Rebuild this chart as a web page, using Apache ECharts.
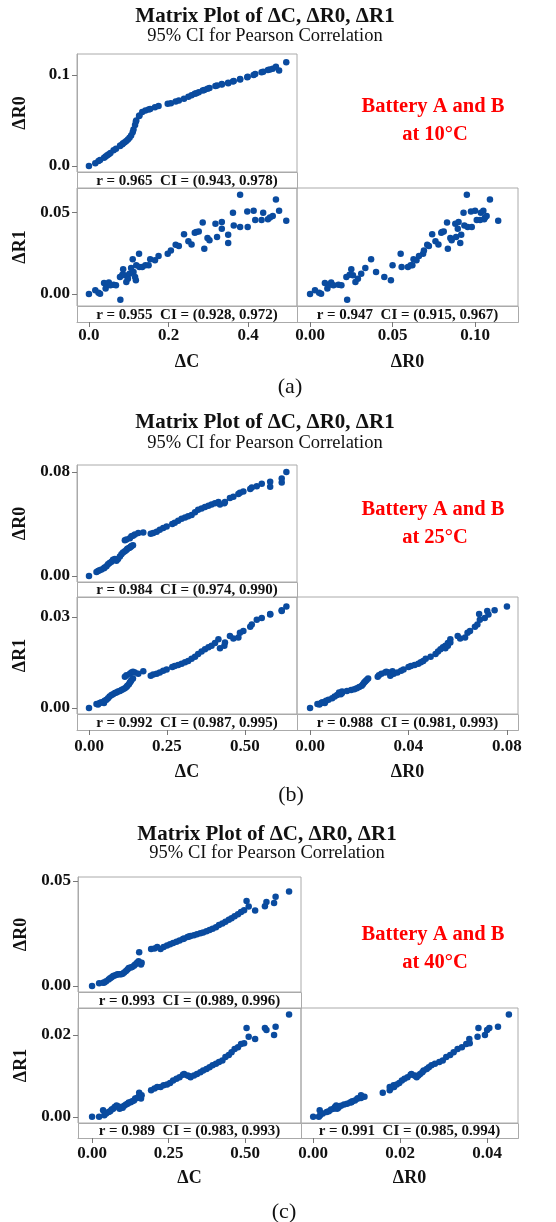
<!DOCTYPE html>
<html>
<head>
<meta charset="utf-8">
<script src="https://cdn.jsdelivr.net/npm/echarts@6/dist/echarts.min.js"></script>
<style>
  html, body { margin: 0; padding: 0; background: #fff; }
  #chart { width: 556px; height: 1222px; }
</style>
</head>
<body>
<div id="chart"></div>
<script>
// ---- data read from the figure: one value per observation ----
// 10 °C
const dC_10 = [0, .016, .024, .028, .038, .042, .046, .050, .054, .062, .068, .079, .078, .084, .086, .090, .094, .098, .102, .106, .110, .112, .116, .118, .119, .126, .127, .134, .142, .150, .154, .166, .175, .198, .206, .218, .226, .239, .250, .258, .266, .270, .276, .286, .290, .298, .303, .318, .322, .334, .334, .350, .350, .362, .364, .380, .380, .398, .399, .414, .418, .434, .438, .450, .455, .462, .470, .478, .496];
const dR0_10 = [0, .003, .0055, .0067, .009, .0105, .0117, .0128, .0142, .0172, .019, .0225, .022, .024, .025, .026, .0275, .029, .031, .0335, .037, .040, .045, .049, .050, .0549, .0555, .0593, .061, .062, .0627, .0645, .066, .0685, .069, .071, .072, .074, .076, .0778, .0795, .080, .081, .083, .0835, .085, .0858, .088, .0885, .090, .0895, .0916, .091, .093, .0935, .095, .0955, .0975, .098, .100, .101, .103, .1035, .1055, .106, .107, .109, .105, .114];
const dR1_10 = [0, .0023, .0008, .0002, .0068, .0033, .0057, .007, .0053, .0057, .0053, -.0035, .0105, .0119, .0152, .0115, .0074, .0094, .0125, .016, .0213, .0135, .0105, .0084, .0176, .0248, .0166, .0166, .0176, .0176, .0213, .0207, .0234, .0248, .0268, .0303, .0295, .0367, .0324, .0305, .0377, .0381, .0385, .0439, .0279, .0344, .033, .0432, .035, .0443, .0402, .0365, .0314, .05, .0422, .0611, .0412, .0508, .0412, .0512, .0455, .0455, .05, .0459, .0471, .048, .0582, .0512, .045];

// 25 °C
const dC_25 = [0, .024, .029, .034, .040, .048, .050, .056, .061, .066, .072, .077, .083, .088, .093, .099, .104, .109, .115, .120, .123, .128, .131, .134, .136, .141, .115, .120, .131, .136, .141, .147, .158, .174, .198, .206, .217, .227, .238, .249, .267, .275, .286, .297, .308, .318, .329, .340, .350, .361, .372, .383, .393, .404, .415, .420, .434, .436, .452, .463, .479, .484, .495, .517, .522, .538, .554, .581, .581, .618, .618, .633];
const dR0_25 = [0, .003, .0038, .0045, .005, .006, .0065, .0075, .009, .010, .011, .0125, .013, .0118, .013, .015, .0167, .018, .019, .020, .021, .0215, .022, .0225, .023, .0236, .0275, .028, .029, .0305, .031, .032, .033, .0335, .0326, .033, .034, .0355, .037, .038, .040, .041, .0425, .044, .045, .046, .047, .049, .051, .052, .053, .054, .055, .056, .057, .055, .056, .057, .060, .061, .063, .064, .065, .067, .068, .069, .071, .0725, .0687, .072, .075, .080];
const dR1_25 = [0, .0013, .0011, .0016, .0019, .0016, .0024, .0027, .0032, .0038, .0043, .0045, .0049, .0051, .0054, .0056, .0059, .0062, .0065, .0069, .0073, .0078, .0084, .0088, .0092, .0097, .0103, .0108, .0113, .0117, .0119, .0117, .0113, .0121, .0106, .0110, .0113, .0117, .0123, .0127, .0135, .0138, .0142, .0146, .0151, .0155, .0162, .0169, .0178, .0186, .0194, .0200, .0205, .0214, .0227, .0197, .0205, .0216, .0237, .0229, .0232, .0248, .0254, .0268, .0275, .0291, .0297, .0308, .031, .032, .0322, .0335];

// 40 °C
const dC_40 = [0, .023, .036, .040, .046, .054, .059, .064, .069, .074, .080, .084, .090, .095, .100, .105, .111, .116, .120, .126, .131, .137, .141, .147, .152, .154, .160, .162, .193, .204, .213, .224, .234, .245, .255, .265, .276, .286, .297, .301, .312, .317, .322, .333, .343, .354, .363, .374, .384, .394, .405, .415, .426, .436, .447, .456, .466, .477, .487, .497, .505, .512, .533, .565, .570, .595, .600, .644];
const dR0_40 = [0, .0013, .0015, .0016, .0022, .0031, .0036, .0041, .0047, .005, .0053, .0055, .0055, .0056, .0058, .0064, .0071, .0078, .0085, .0088, .009, .0096, .0102, .011, .0118, .016, .0102, .011, .0176, .0178, .0186, .0176, .0185, .0192, .0198, .0204, .021, .0217, .0224, .0226, .0233, .0236, .0238, .0242, .0246, .0251, .0254, .0261, .0266, .0272, .028, .029, .0298, .0306, .0315, .0323, .0332, .0342, .0352, .036, .0405, .0378, .0359, .038, .040, .0395, .0425, .045];
const dR1_40 = [0, 0, .0016, .0004, .0008, .0012, .0014, .0018, .002, .0024, .0028, .0026, .002, .0024, .0022, .0027, .003, .0032, .0035, .0036, .0038, .004, .0045, .0046, .0049, .0059, .0045, .0053, .0065, .0069, .0073, .0073, .0077, .0079, .0083, .0089, .0093, .0097, .0103, .0105, .0101, .010, .0097, .0101, .0105, .0109, .0113, .0117, .0121, .0126, .013, .0134, .0138, .0146, .0151, .0158, .0166, .017, .0178, .018, .0217, .0196, .019, .0217, .0212, .020, .022, .025];

// tick labels
const ticksC_10 = ['0.0', '0.2', '0.4'];
const ticksR0x_10 = ['0.00', '0.05', '0.10'];
const ticksR0y_10 = ['0.0', '0.1'];
const ticksR1_10 = ['0.00', '0.05'];
const ticksC_25 = ['0.00', '0.25', '0.50'];
const ticksR0x_25 = ['0.00', '0.04', '0.08'];
const ticksR0y_25 = ['0.00', '0.08'];
const ticksR1_25 = ['0.00', '0.03'];
const ticksC_40 = ['0.00', '0.25', '0.50'];
const ticksR0x_40 = ['0.00', '0.02', '0.04'];
const ticksR0y_40 = ['0.00', '0.05'];
const ticksR1_40 = ['0.00', '0.02'];

// correlation text (ΔC-ΔR0, ΔC-ΔR1, ΔR0-ΔR1)
const stats_10 = ['r = 0.965  CI = (0.943, 0.978)', 'r = 0.955  CI = (0.928, 0.972)', 'r = 0.947  CI = (0.915, 0.967)'];
const stats_25 = ['r = 0.984  CI = (0.974, 0.990)', 'r = 0.992  CI = (0.987, 0.995)', 'r = 0.988  CI = (0.981, 0.993)'];
const stats_40 = ['r = 0.993  CI = (0.989, 0.996)', 'r = 0.989  CI = (0.983, 0.993)', 'r = 0.991  CI = (0.985, 0.994)'];

const FONT = "'Liberation Serif', 'Times New Roman', serif";
const GRAY = '#aaaaaa';
const DOT = '#0a4b9f';

const grids = [], xAxes = [], yAxes = [], series = [], graphics = [];

function zip(a, b) { return a.map((v, i) => [v, b[i]]); }

function text(x, y, str, font, color) {
  graphics.push({
    type: 'text', x: x, y: y, silent: true,
    style: { text: str, font: font, fill: color || '#111', align: 'center', verticalAlign: 'middle',
             textAlign: 'center', textVerticalAlign: 'middle' }
  });
}

function valueAxis(range, ticks, margin, opt) {
  const vals = ticks ? ticks.map(Number) : [];
  const dec = ticks ? ticks[0].split('.')[1].length : 0;
  return Object.assign({
    type: 'value', min: range[0], max: range[1],
    splitLine: { show: false },
    axisLine: { show: !!ticks, onZero: false, lineStyle: { color: GRAY } },
    axisTick: { show: !!ticks, length: 5, customValues: vals, lineStyle: { color: '#777' } },
    axisLabel: {
      show: !!ticks, customValues: vals, margin: margin,
      formatter: v => v.toFixed(dec),
      color: '#111', fontFamily: FONT, fontWeight: 'bold', fontSize: 17
    },
    nameTextStyle: { color: '#111', fontFamily: FONT, fontWeight: 'bold', fontSize: 18 }
  }, opt);
}

function addPanel(p) {
  const cells = [
    { x: p.left, w: p.mid - p.left, top: p.t1, strip: p.s1, bottom: p.t2,
      xs: p.C, ys: p.R0, xr: p.xC, yr: p.yR0, xt: null, yt: p.yR0t, xn: '', yn: 'ΔR0', stat: p.stats[0] },
    { x: p.left, w: p.mid - p.left, top: p.t2, strip: p.s2, bottom: p.b2,
      xs: p.C, ys: p.R1, xr: p.xC, yr: p.yR1, xt: p.xCt, yt: p.yR1t, xn: 'ΔC', yn: 'ΔR1', stat: p.stats[1] },
    { x: p.mid, w: p.right - p.mid, top: p.t2, strip: p.s2, bottom: p.b2,
      xs: p.R0, ys: p.R1, xr: p.xR0, yr: p.yR1, xt: p.xR0t, yt: null, xn: 'ΔR0', yn: '', stat: p.stats[2] }
  ];
  cells.forEach(c => {
    const gi = grids.length;
    grids.push({ left: c.x, top: c.top, width: c.w, height: c.strip - c.top,
                 show: true, borderColor: GRAY, borderWidth: 1, containLabel: false, outerBoundsMode: 'none' });
    xAxes.push(valueAxis(c.xr, c.xt, p.xMargin, {
      gridIndex: gi, offset: c.bottom - c.strip,
      name: c.xn, nameLocation: 'middle', nameGap: p.nameY - 9 - c.bottom
    }));
    yAxes.push(valueAxis(c.yr, c.yt, 7, {
      gridIndex: gi, name: c.yn, nameLocation: 'middle', nameGap: 48
    }));
    series.push({
      type: 'scatter', xAxisIndex: gi, yAxisIndex: gi, data: zip(c.xs, c.ys),
      symbolSize: 6.5, itemStyle: { color: DOT, opacity: 1 }, silent: true
    });
    // r / CI strip below each plot
    graphics.push({
      type: 'rect', silent: true, z: -1,
      shape: { x: c.x + 0.5, y: c.strip + 0.5, width: c.w, height: c.bottom - c.strip },
      style: { fill: '#fff', stroke: GRAY, lineWidth: 1 }
    });
    text(c.x + c.w / 2, (c.strip + c.bottom) / 2 + 1, c.stat, 'bold 15px ' + FONT);
  });
  text(p.titleX, p.titleY, 'Matrix Plot of ΔC, ΔR0, ΔR1', 'bold 21px ' + FONT);
  text(p.titleX, p.subY, '95% CI for Pearson Correlation', '18.5px ' + FONT);
  text(433, p.redY, 'Battery A and B', 'bold 20.5px ' + FONT, '#ff0000');
  text(435, p.redY + 28, 'at ' + p.temp + '°C', 'bold 20.5px ' + FONT, '#ff0000');
  text(p.tagX, p.tagY, p.tag, '22px ' + FONT);
}

addPanel({
  temp: '10', tag: '(a)', C: dC_10, R0: dR0_10, R1: dR1_10, stats: stats_10,
  xCt: ticksC_10, xR0t: ticksR0x_10, yR0t: ticksR0y_10, yR1t: ticksR1_10,
  xC: [-0.030, 0.523], xR0: [-0.0079, 0.126], yR0: [-0.0066, 0.1231], yR1: [-0.0074, 0.0652],
  left: 77, mid: 297, right: 518, t1: 54, s1: 172, t2: 188, s2: 306, b2: 322,
  titleX: 265, titleY: 17, subY: 36, redY: 107, xMargin: 5, nameY: 362, tagX: 290, tagY: 387
});
addPanel({
  temp: '25', tag: '(b)', C: dC_25, R0: dR0_25, R1: dR1_25, stats: stats_25,
  xCt: ticksC_25, xR0t: ticksR0x_25, yR0t: ticksR0y_25, yR1t: ticksR1_25,
  xC: [-0.0385, 0.667], xR0: [-0.0053, 0.0845], yR0: [-0.0046, 0.0854], yR1: [-0.002, 0.0366],
  left: 77, mid: 297, right: 518, t1: 465, s1: 582, t2: 597, s2: 714, b2: 730,
  titleX: 265, titleY: 423, subY: 443, redY: 510, xMargin: 8, nameY: 772, tagX: 291, tagY: 795
});
addPanel({
  temp: '40', tag: '(c)', C: dC_40, R0: dR0_40, R1: dR1_40, stats: stats_40,
  xCt: ticksC_40, xR0t: ticksR0x_40, yR0t: ticksR0y_40, yR1t: ticksR1_40,
  xC: [-0.046, 0.683], xR0: [-0.0028, 0.0471], yR0: [-0.0029, 0.0519], yR1: [-0.0015, 0.0266],
  left: 78, mid: 301, right: 518, t1: 877, s1: 992, t2: 1008, s2: 1123, b2: 1138,
  titleX: 267, titleY: 835, subY: 853, redY: 935, xMargin: 7, nameY: 1178, tagX: 284, tagY: 1212
});

const chart = echarts.init(document.getElementById('chart'), null, { renderer: 'canvas' });
chart.setOption({
  animation: false,
  backgroundColor: '#fff',
  grid: grids,
  xAxis: xAxes,
  yAxis: yAxes,
  series: series,
  graphic: graphics
});
</script>
</body>
</html>
